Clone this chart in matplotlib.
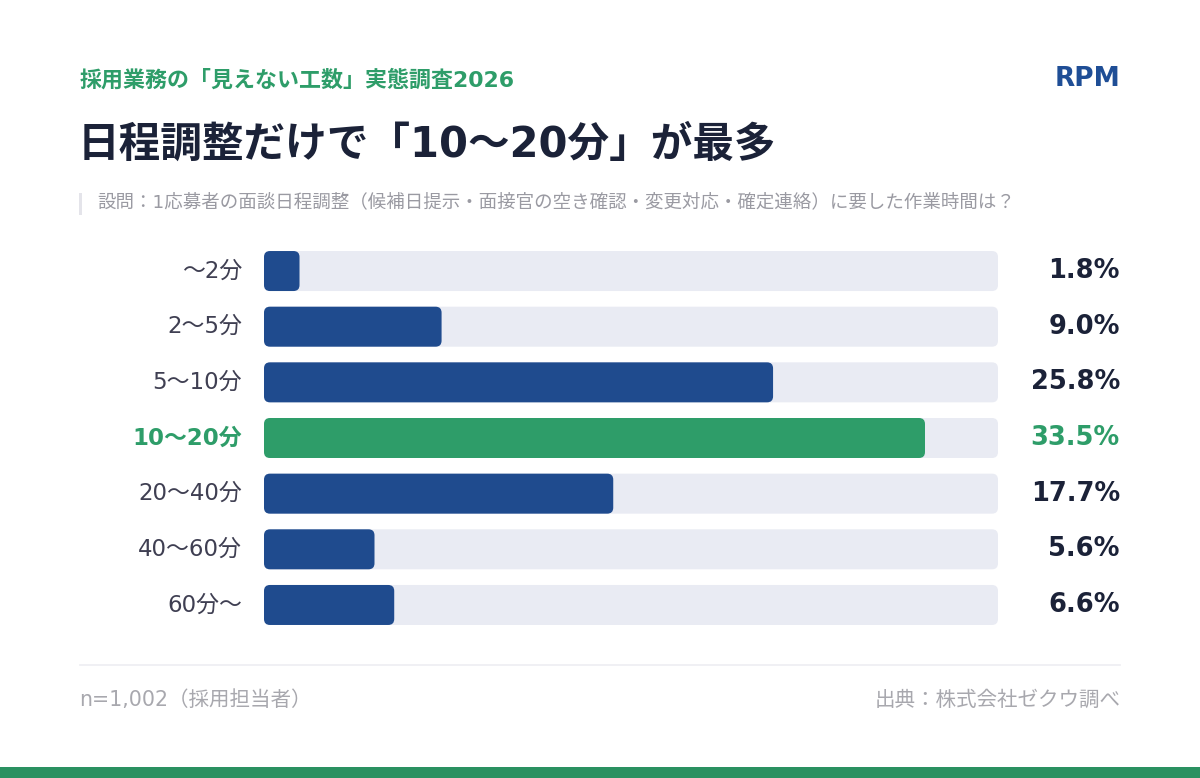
import matplotlib
matplotlib.use("Agg")
import matplotlib.pyplot as plt
from matplotlib.patches import FancyBboxPatch, Rectangle

plt.rcParams['font.family'] = ['DejaVu Sans', 'Noto Sans CJK JP']

# ---- data ----
categories = ["〜2分", "2〜5分", "5〜10分", "10〜20分", "20〜40分", "40〜60分", "60分〜"]
values = [1.8, 9.0, 25.8, 33.5, 17.7, 5.6, 6.6]
highlight = "10〜20分"
value_labels = [f"{v:.1f}%" for v in values]

kicker = "採用業務の「見えない工数」実態調査2026"
title = "日程調整だけで「10〜20分」が最多"
question = "設問：1応募者の面談日程調整（候補日提示・面接官の空き確認・変更対応・確定連絡）に要した作業時間は？"
brand = "RPM"
note_left = "n=1,002（採用担当者）"
note_right = "出典：株式会社ゼクウ調べ"

# ---- styles ----
W, H = 1200, 778
BLUE = "#1F4B8E"
GREEN = "#2E9D69"
TRACK = "#E9EBF3"
DARK = "#1B2238"
LABEL = "#3F3F52"
GRAY = "#A8A8AE"
XMAX = 37.2

fig = plt.figure(figsize=(W / 100, H / 100), dpi=100)
fig.patch.set_facecolor("white")

def fx(px):
    return px / W

def fy(py):
    return 1 - py / H

# header texts
fig.text(fx(80), fy(80), kicker, color=GREEN, fontsize=15.8, fontweight="bold", va="center", ha="left")
fig.text(fx(1120), fy(79), brand, color="#1F4E96", fontsize=19, fontweight="bold", va="center", ha="right")
fig.text(fx(78), fy(145), title, color=DARK, fontsize=30, fontweight="bold", va="center", ha="left")
fig.patches.append(Rectangle((fx(79), fy(215)), fx(3), 22 / H, transform=fig.transFigure,
                             facecolor="#E4E4EA", edgecolor="none"))
fig.text(fx(97), fy(202), question, color="#9A9AA2", fontsize=13.3, va="center", ha="left")

# bar axes
ax_top, ax_bot = 243.2, 632.8
ax = fig.add_axes([fx(264), fy(ax_bot), fx(998) - fx(264), (ax_bot - ax_top) / H])
ax.set_xlim(0, XMAX)
ax.set_ylim(len(categories) - 0.5, -0.5)
ax.axis("off")

px_x = (998 - 264) / XMAX
px_y = (ax_bot - ax_top) / len(categories)
aspect = px_x / px_y
bh = 40 / px_y
r = 6 / px_x

for i, (cat, v, lab) in enumerate(zip(categories, values, value_labels)):
    hl = cat == highlight
    track = FancyBboxPatch((0, i - bh / 2), XMAX, bh,
                           boxstyle=f"round,pad=0,rounding_size={r}",
                           mutation_aspect=aspect, facecolor=TRACK, edgecolor="none")
    ax.add_patch(track)
    bar = FancyBboxPatch((0, i - bh / 2), v, bh,
                         boxstyle=f"round,pad=0,rounding_size={min(r, v / 2)}",
                         mutation_aspect=aspect, facecolor=GREEN if hl else BLUE, edgecolor="none")
    ax.add_patch(bar)
    ax.text(-22 / px_x, i, cat, ha="right", va="center", fontsize=16.5,
            color=GREEN if hl else LABEL, fontweight="bold" if hl else "normal")
    ax.text(XMAX + 122 / px_x, i, lab, ha="right", va="center", fontsize=18.5,
            color=GREEN if hl else DARK, fontweight="bold", clip_on=False)

# divider
fig.add_artist(plt.Line2D([fx(80), fx(1120)], [fy(665), fy(665)], color="#EDEDF2", lw=1.2))

# footer
fig.text(fx(79), fy(700), note_left, color=GRAY, fontsize=14.8, va="center", ha="left")
fig.text(fx(1121), fy(700), note_right, color=GRAY, fontsize=14.8, va="center", ha="right")

# bottom band
fig.patches.append(Rectangle((0, 0), 1, 11 / H, transform=fig.transFigure,
                             facecolor="#2A9161", edgecolor="none"))

fig.savefig("out.png", dpi=100, facecolor="white")
